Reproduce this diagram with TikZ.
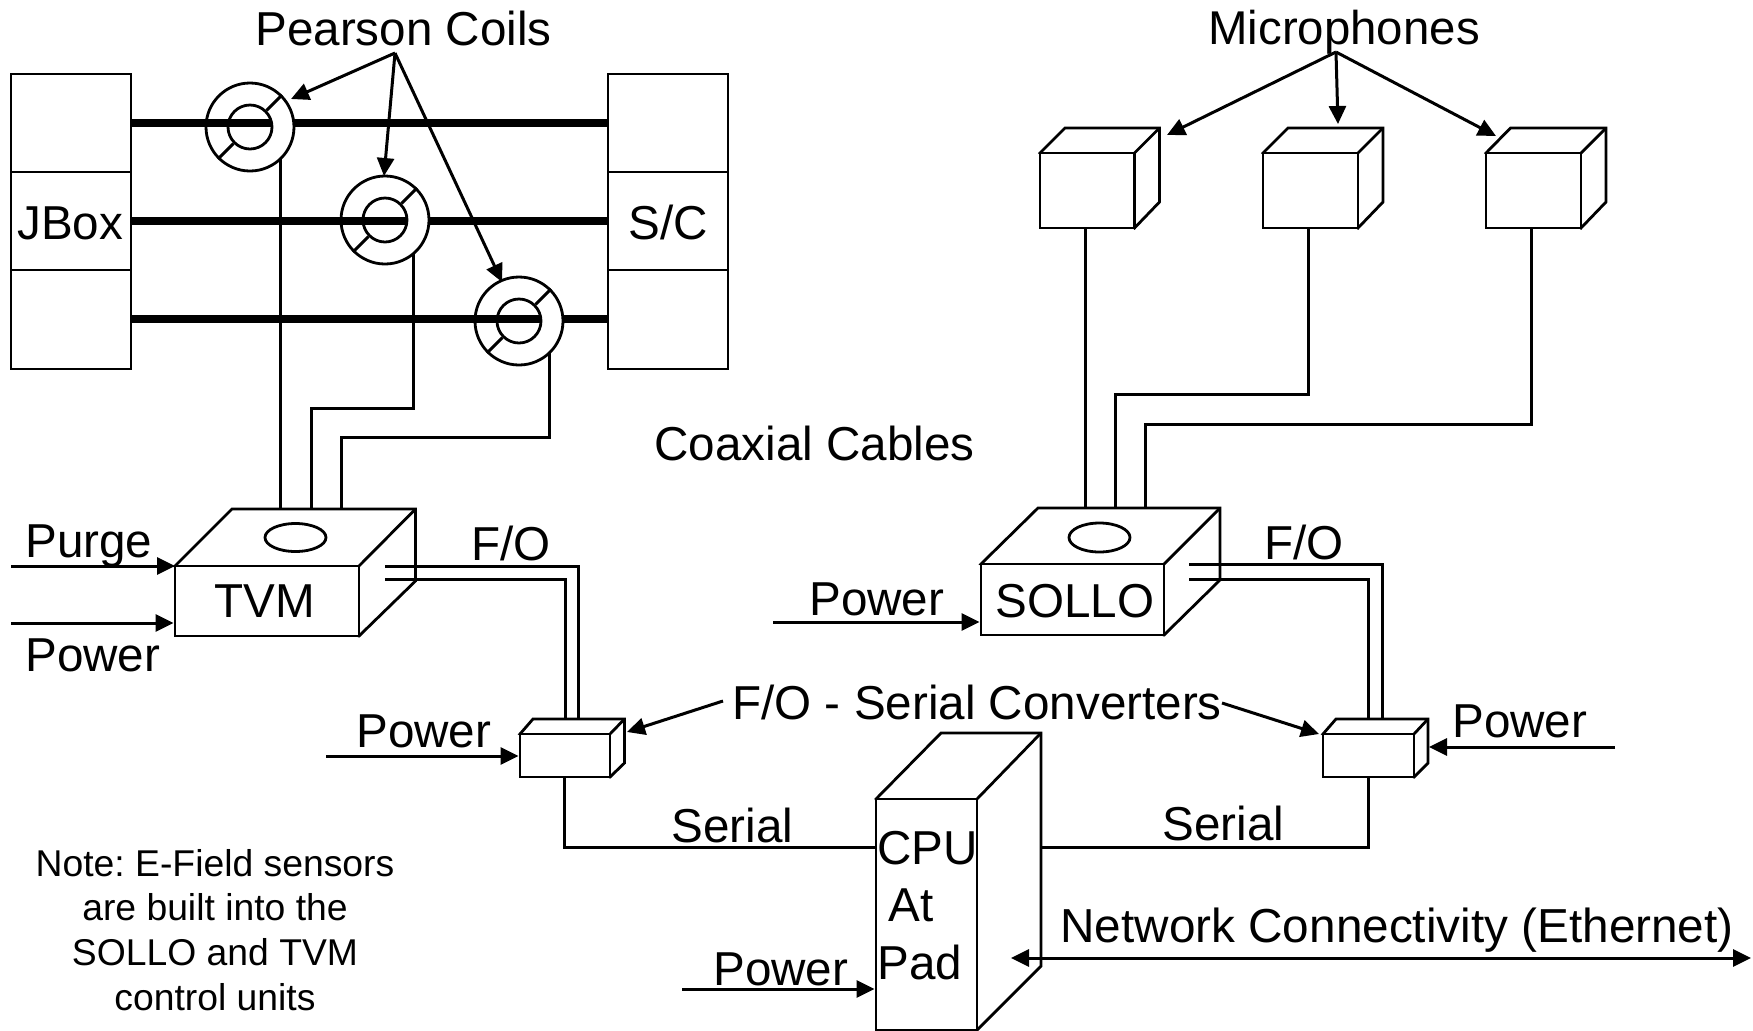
\documentclass[tikz,border=0pt]{standalone}
\usepackage{fontspec}
\setmainfont{Liberation Sans}
\usetikzlibrary{arrows.meta,fit}
\tikzset{
  boxline/.style={draw=black,line width=1.4pt,miter limit=10},
  wire/.style={draw=black,line width=1.5pt},
  thickwire/.style={draw=black,line width=4pt},
  arr/.style={draw=black,line width=1.5pt,-{Triangle[length=9pt,width=8.5pt]}},
  biarr/.style={draw=black,line width=1.5pt,{Triangle[length=9pt,width=8.5pt]}-{Triangle[length=9pt,width=8.5pt]}},
  frontbox/.style={boxline,fill=white,inner sep=0pt},
  txt/.style={anchor=base west,inner sep=0pt,font=\fontsize{23.8}{28}\selectfont},
  coilring/.style={boxline,fill=white,circle,inner sep=0pt,minimum size=44pt},
  coilhole/.style={boxline,circle,inner sep=0pt,minimum size=22pt},
  lens/.style={boxline,fill=white},
}
% name, x1,y1 (front top-left), x2,y2 (front bottom-right), back-left x, back-right x, back top y, back-right bottom y
\newcommand\cuboid[9]{%
  \coordinate (#1-a) at (#2,#3);
  \coordinate (#1-b) at (#4,#5);
  \coordinate (#1-c) at (#4,#3);
  \coordinate (#1-bl) at (#6,#8);
  \coordinate (#1-br) at (#7,#8);
  \coordinate (#1-rb) at (#7,#9);
  \draw[boxline,fill=white,line join=miter] (#1-a) -- (#1-bl) -- (#1-br) -- (#1-rb) -- (#1-b) -- cycle;
  \node[frontbox,fit=(#1-a)(#1-b)] (#1) {};
  \draw[boxline] (#1-c) -- (#1-br);
}
% name, cx, cy, thick-wire y
\newcommand\coil[4]{%
  \node[coilring] (#1) at (#2,#3) {};
  \draw[thickwire] (#2-44,#4) -- (#2+22,#4);
  \node[coilhole] (#1-in) at (#2,#3) {};
  \draw[wire] (#1.45) -- (#1-in.45);
  \draw[wire] (#1.225) -- (#1-in.225);
}
\begin{document}
\begin{tikzpicture}[x=0.5pt,y=-0.5pt]
\useasboundingbox[fill=white] (0,0) rectangle (1753,1030);

% JBox and S/C stacks
\coordinate (j0) at (11,74); \coordinate (j1) at (131,172);
\coordinate (j2) at (11,270); \coordinate (j3) at (131,369);
\node[frontbox,fit=(j0)(j1)] (jboxA) {};
\node[frontbox,fit=(j1)(j2)] (jboxB) {};
\node[frontbox,fit=(j2)(j3)] (jboxC) {};
\coordinate (s0) at (608,74); \coordinate (s1) at (728,172);
\coordinate (s2) at (608,270); \coordinate (s3) at (728,369);
\node[frontbox,fit=(s0)(s1)] (scA) {};
\node[frontbox,fit=(s1)(s2)] (scB) {};
\node[frontbox,fit=(s2)(s3)] (scC) {};
\node[txt] (jboxt) at (17,239) {JBox};
\node[txt] (sct) at (628,239) {S/C};

% coil output wires
\coordinate (tvmw1) at (280,509);
\coordinate (tvmw2) at (311,509);
\coordinate (tvmw3) at (341,509);
\coordinate (cw1) at (280,158);
\coordinate (cw2) at (413,250);
\coordinate (cw3) at (549,352);
\draw[wire] (cw1) -- (tvmw1);
\draw[wire] (cw2) -- (413,408) -- (311,408) -- (tvmw2);
\draw[wire] (cw3) -- (549,437) -- (341,437) -- (tvmw3);

% thick lines
\draw[thickwire] (jboxA.east |- 0,123) -- (scA.west |- 0,123);
\draw[thickwire] (jboxB.east |- 0,221) -- (scB.west |- 0,221);
\draw[thickwire] (jboxC.east |- 0,319) -- (scC.west |- 0,319);

% coils
\coil{coilA}{250}{127}{123}
\coil{coilB}{385}{220}{221}
\coil{coilC}{519}{321}{319}

% Pearson coils label
\node[txt] (pearson) at (255,45) {Pearson Coils};
\coordinate (pa) at (395,53);
\coordinate (ptA) at (291,99);
\coordinate (ptB) at (384,176);
\coordinate (ptC) at (502,282);
\draw[arr] (pa) -- (ptA);
\draw[arr] (pa) -- (ptB);
\draw[arr] (pa) -- (ptC);

% Microphones
\node[txt,font=\fontsize{23.7}{28}\selectfont] (micl) at (1208,44) {Microphones};
\coordinate (ma) at (1336,52);
\coordinate (mtA) at (1167,135);
\coordinate (mtB) at (1338,124);
\coordinate (mtC) at (1496,136);
\draw[arr] (ma) -- (mtA);
\draw[arr] (ma) -- (mtB);
\draw[arr] (ma) -- (mtC);

\cuboid{micA}{1040}{153}{1134.5}{228}{1065}{1159.5}{128}{202}
\cuboid{micB}{1263}{153}{1358}{228}{1288}{1383}{128}{202}
\cuboid{micC}{1486}{153}{1581}{228}{1510.5}{1606}{128}{202}

% mic wires
\coordinate (solw1) at (1085,508);
\coordinate (solw2) at (1115,508);
\coordinate (solw3) at (1145,508);
\coordinate (mw1) at (1085,228);
\coordinate (mw2) at (1308,228);
\coordinate (mw3) at (1531,228);
\draw[wire] (mw1) -- (solw1);
\draw[wire] (mw2) -- (1308,394) -- (1115,394) -- (solw2);
\draw[wire] (mw3) -- (1531,424) -- (1145,424) -- (solw3);

\node[txt] (coax) at (654,460) {Coaxial Cables};

% TVM
\cuboid{tvm}{175}{566}{359}{636}{232}{415.5}{509}{581}
\draw[lens] (295.5,537.5) ellipse [x radius=30.5,y radius=14];
\node[txt] (tvmt) at (214,617) {TVM};
\coordinate (purgeS) at (11,566);
\coordinate (powerS) at (11,623);
\draw[arr] (purgeS) -- (tvm-a);
\draw[arr] (powerS) -- (powerS -| tvm.west);
\node[txt] (purget) at (25,557) {Purge};
\node[txt] (powert) at (25,671) {Power};

% left converter
\cuboid{convL}{520}{734}{610}{777}{533}{624.5}{719}{763}
\coordinate (foL1) at (385,566);
\coordinate (foL2) at (385,579);
\coordinate (convLa) at (578.5,719);
\coordinate (convLb) at (565,719);
\draw[wire] (foL1) -- (578.5,566) -- (convLa);
\draw[wire] (foL2) -- (565,579) -- (convLb);
\node[txt] (fol) at (471,560) {F/O};
\coordinate (pwrL) at (326,756);
\draw[arr] (pwrL) -- (pwrL -| convL.west);
\node[txt] (pwrLt) at (356,747) {Power};

% SOLLO
\cuboid{sollo}{981}{564}{1164}{635}{1038}{1220}{508}{580}
\draw[lens] (1099.5,537.5) ellipse [x radius=30.5,y radius=14.5];
\node[txt] (sollot) at (995,617) {SOLLO};
\coordinate (pwrS) at (773,622);
\draw[arr] (pwrS) -- (pwrS -| sollo.west);
\node[txt] (pwrSt) at (809,615) {Power};

% right converter
\cuboid{convR}{1323}{734}{1414}{777}{1336}{1428}{719}{763}
\coordinate (foR1) at (1189,564);
\coordinate (foR2) at (1189,579);
\coordinate (convRa) at (1382,719);
\coordinate (convRb) at (1368,719);
\draw[wire] (foR1) -- (1382,564) -- (convRa);
\draw[wire] (foR2) -- (1368,579) -- (convRb);
\node[txt] (for) at (1264,559) {F/O};
\coordinate (pwrR) at (1615,747);
\coordinate (pwrRt) at (1429,747);
\draw[arr] (pwrR) -- (pwrRt);
\node[txt] (pwrRl) at (1452,737) {Power};

% converters label
\node[txt] (convlab) at (732,719) {F/O - Serial Converters};
\coordinate (clA) at (723,701);
\coordinate (clB) at (627,732);
\coordinate (crA) at (1222,703);
\coordinate (crB) at (1319,734);
\draw[arr] (clA) -- (clB);
\draw[arr] (crA) -- (crB);

% CPU
\cuboid{cpu}{876}{799}{977}{1030}{941}{1041}{733}{966}
\coordinate (serLs) at (564,777);
\coordinate (serLe) at (876,847);
\draw[wire] (serLs) -- (564,847) -- (serLe);
\coordinate (serRs) at (1041,847);
\coordinate (serRe) at (1368,777);
\draw[wire] (serRs) -- (1368,847) -- (serRe);
\node[txt] (serLt) at (671,842) {Serial};
\node[txt] (serRt) at (1162,840) {Serial};
\node[txt] (cput) at (877,864) {CPU};
\node[txt] (att) at (888,921) {At};
\node[txt] (padt) at (877,979) {Pad};
\coordinate (pwrC) at (682,989);
\draw[arr] (pwrC) -- (pwrC -| cpu.west);
\node[txt] (pwrCt) at (713,985) {Power};
\coordinate (netA) at (1011,958);
\coordinate (netB) at (1751,958);
\draw[biarr] (netA) -- (netB);
\node[txt,font=\fontsize{23.85}{28}\selectfont] (nett) at (1060,942) {Network Connectivity (Ethernet)};

% note
\node[inner sep=0pt,align=center,anchor=center,font=\fontsize{18.65}{22.35}\selectfont\frenchspacing] (note) at (215,930) {Note: E-Field sensors\\are built into the\\SOLLO and TVM\\control units};
\end{tikzpicture}
\end{document}
